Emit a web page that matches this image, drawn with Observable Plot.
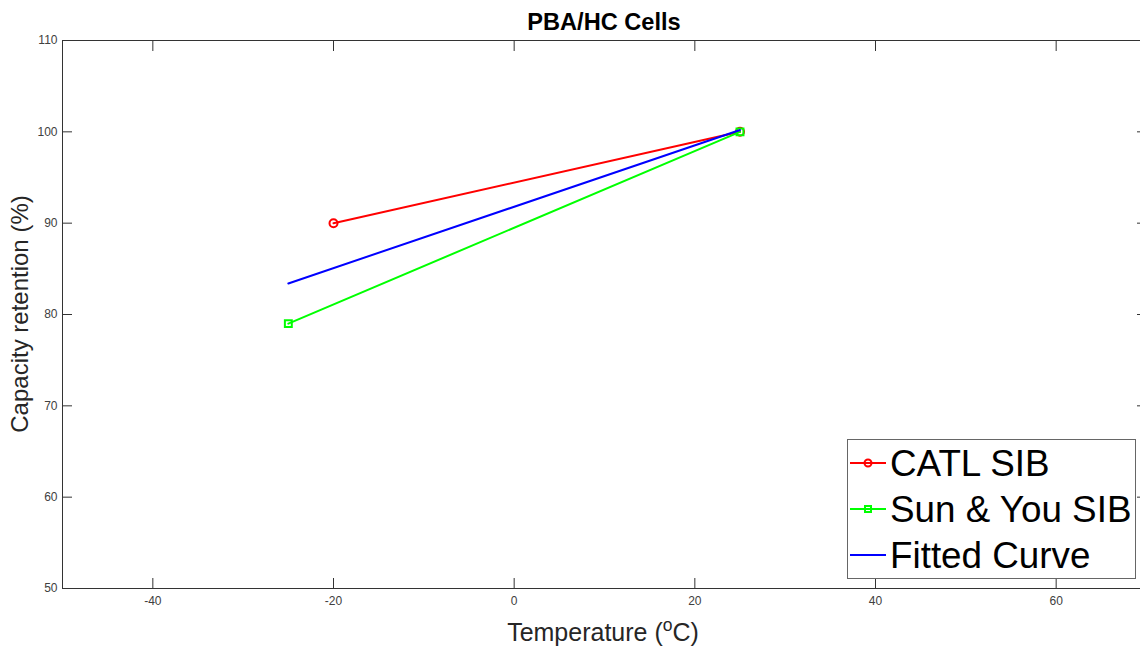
<!DOCTYPE html>
<html><head><meta charset="utf-8">
<script src="https://cdn.jsdelivr.net/npm/d3@7"></script>
<script src="https://cdn.jsdelivr.net/npm/@observablehq/plot@0.6"></script>
<style>
body{margin:0;background:#fff;}
#wrap{position:relative;width:1140px;height:648px;overflow:hidden;}
#wrap svg{overflow:hidden;}
</style></head><body><div id="wrap"></div>
<script>
// Data
const catlTemp = [-20, 25];
const catlRet  = [90, 100];
const sunTemp  = [-25, 25];
const sunRet   = [79, 100];
const fitTemp  = [-25, 25];
const fitRet   = [83.4, 100.2];
const xTicks = [-40, -20, 0, 20, 40, 60];
const yTicks = [50, 60, 70, 80, 90, 100, 110];
const seriesNames = ["CATL SIB", "Sun & You SIB", "Fitted Curve"];
const seriesColors = ["#ff0000", "#00ff00", "#0000ff"];

const font = "'Liberation Sans', Arial, Helvetica, sans-serif";
const axisCol = "#333333";
const textCol = "#404040";

const rows = (xs, ys) => xs.map((x, i) => ({x, y: ys[i]}));
const catl = rows(catlTemp, catlRet);
const sun = rows(sunTemp, sunRet);
const fit = rows(fitTemp, fitRet);

const chart = Plot.plot({
  width: 1140, height: 648,
  marginLeft: 62, marginRight: -6, marginTop: 40, marginBottom: 60,
  style: {fontFamily: font, fontSize: "12px", color: textCol, background: "white"},
  x: {domain: [-50, 70]},
  y: {domain: [50, 110]},
  marks: [
    Plot.frame({stroke: axisCol, strokeWidth: 1}),
    Plot.axisX(xTicks, {anchor: "bottom", tickSize: 0, tickPadding: 8, label: null, fill: textCol, fontSize: 12, tickFormat: d => String(d)}),
    Plot.axisX(xTicks, {anchor: "bottom", tickSize: -10, tickFormat: () => "", label: null, stroke: axisCol}),
    Plot.axisX(xTicks, {anchor: "top", tickSize: -10, tickFormat: () => "", label: null, stroke: axisCol}),
    Plot.axisY(yTicks, {anchor: "left", tickSize: 0, tickPadding: 5, label: null, fill: textCol, fontSize: 12, tickFormat: d => String(d)}),
    Plot.axisY(yTicks, {anchor: "left", tickSize: -10, tickFormat: () => "", label: null, stroke: axisCol}),
    Plot.axisY(yTicks, {anchor: "right", tickSize: -10, tickFormat: () => "", label: null, stroke: axisCol}),
    Plot.line(catl, {x: "x", y: "y", stroke: seriesColors[0], strokeWidth: 2}),
    Plot.dot(catl, {x: "x", y: "y", r: 4, stroke: seriesColors[0], strokeWidth: 2, fill: "none"}),
    Plot.line(sun, {x: "x", y: "y", stroke: seriesColors[1], strokeWidth: 2}),
    Plot.dot(sun, {x: "x", y: "y", r: 3.9, symbol: "square", stroke: seriesColors[1], strokeWidth: 2, fill: "none"}),
    Plot.line(fit, {x: "x", y: "y", stroke: seriesColors[2], strokeWidth: 2})
  ]
});
document.getElementById("wrap").appendChild(chart);

const svg = d3.select(chart);
// Title
svg.append("text").attr("x", 604).attr("y", 30).attr("text-anchor", "middle")
  .attr("font-family", font).attr("font-size", 23.6).attr("font-weight", "bold").attr("fill", "#000")
  .text("PBA/HC Cells");
// X label
const xl = svg.append("text").attr("x", 603).attr("y", 641).attr("text-anchor", "middle")
  .attr("font-family", font).attr("font-size", 25).attr("fill", "#262626");
xl.append("tspan").text("Temperature (");
xl.append("tspan").attr("font-size", 17.5).attr("dy", -10).text("o");
xl.append("tspan").attr("dy", 10).text("C)");
// Y label
svg.append("text").attr("transform", "translate(28,314) rotate(-90)").attr("text-anchor", "middle")
  .attr("font-family", font).attr("font-size", 24).attr("fill", "#262626")
  .text("Capacity retention (%)");

// Legend
const lg = svg.append("g");
lg.append("rect").attr("x", 847.5).attr("y", 439.5).attr("width", 288).attr("height", 139)
  .attr("fill", "white").attr("stroke", "#666").attr("stroke-width", 1);
const rowY = [463, 509, 555];
seriesNames.forEach((name, i) => {
  const y = rowY[i];
  lg.append("line").attr("x1", 850).attr("x2", 886).attr("y1", y).attr("y2", y)
    .attr("stroke", seriesColors[i]).attr("stroke-width", 2);
  if (i === 0) lg.append("circle").attr("cx", 868).attr("cy", y).attr("r", 3.5)
    .attr("fill", "none").attr("stroke", seriesColors[i]).attr("stroke-width", 2);
  if (i === 1) lg.append("rect").attr("x", 865).attr("y", y - 3).attr("width", 6).attr("height", 6)
    .attr("fill", "none").attr("stroke", seriesColors[i]).attr("stroke-width", 2);
  lg.append("text").attr("x", 890).attr("y", y + 13).attr("text-anchor", "start").attr("font-family", font)
    .attr("font-size", 36.8).attr("fill", "#000").text(name);
});
</script></body></html>
